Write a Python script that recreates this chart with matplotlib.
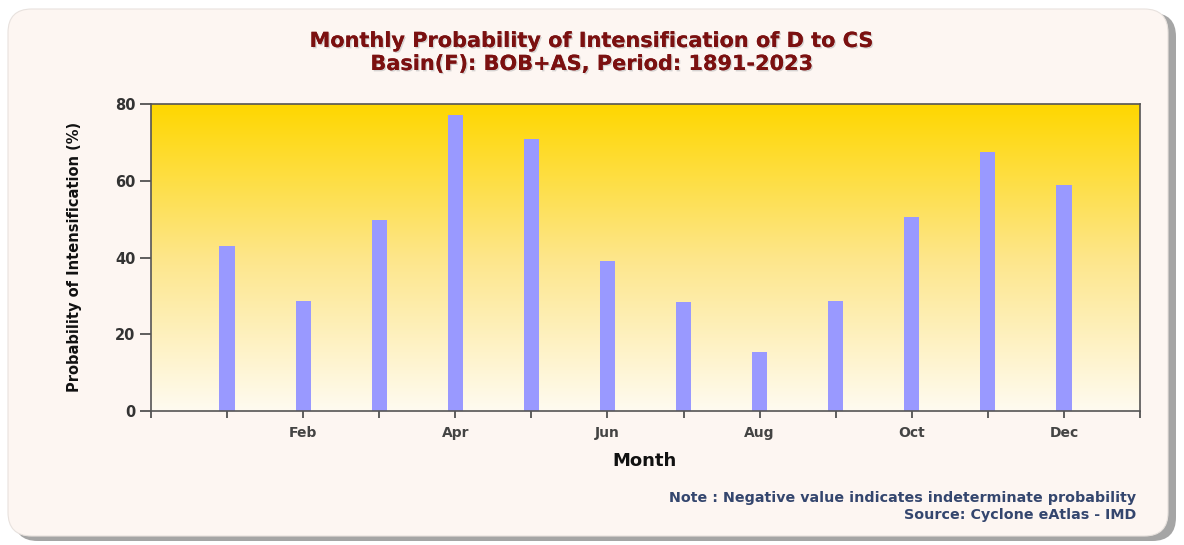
import numpy as np
import matplotlib
matplotlib.use("Agg")
import matplotlib.pyplot as plt
from matplotlib.patches import FancyBboxPatch
import matplotlib.patheffects as pe
from matplotlib.colors import LinearSegmentedColormap

months = ["Jan", "Feb", "Mar", "Apr", "May", "Jun", "Jul", "Aug", "Sep", "Oct", "Nov", "Dec"]
probability = [43.0, 28.6, 49.8, 77.1, 70.8, 39.2, 28.4, 15.4, 28.6, 50.5, 67.4, 58.9]
yticks = [0, 20, 40, 60, 80]
title_lines = ["Monthly Probability of Intensification of D to CS",
               "Basin(F): BOB+AS, Period: 1891-2023"]

W, H = 1184, 545
fig = plt.figure(figsize=(W / 100, H / 100), dpi=100)
fig.patch.set_facecolor("white")

# card with shadow
shadow = FancyBboxPatch((14 / W, 4 / H), (1162 / W), (528 / H),
                        boxstyle="round,pad=0,rounding_size=0.02",
                        transform=fig.transFigure, facecolor="#a5a5a5",
                        edgecolor="none", zorder=-2, mutation_aspect=W / H)
card = FancyBboxPatch((8 / W, 9 / H), (1160 / W), (527 / H),
                      boxstyle="round,pad=0,rounding_size=0.02",
                      transform=fig.transFigure, facecolor="#fdf6f2",
                      edgecolor="#e8e2de", linewidth=0.8, zorder=-1,
                      mutation_aspect=W / H)
fig.patches.extend([shadow, card])

fam = ["DejaVu Sans"]
shadow_fx = [pe.withSimplePatchShadow(offset=(1, -1), shadow_rgbFace="#bbbbbb", alpha=0.6), pe.Normal()]
fig.text(592 / W, 1 - 41 / H, title_lines[0], ha="center", va="center",
         fontsize=15, fontweight="bold", color="#7b1010", family=fam,
         path_effects=shadow_fx)
fig.text(592 / W, 1 - 64 / H, title_lines[1], ha="center", va="center",
         fontsize=15, fontweight="bold", color="#7b1010", family=fam,
         path_effects=shadow_fx)

ax = fig.add_axes([151 / W, 1 - 411 / H, (1140 - 151) / W, (411 - 104) / H])
ax.set_xlim(0, 13)
ax.set_ylim(0, 80)

cmap = LinearSegmentedColormap.from_list("g", ["#fffbf0", "#fde68a", "#ffd700"])
grad = np.linspace(0, 1, 256).reshape(-1, 1)
ax.imshow(grad, aspect="auto", cmap=cmap, origin="lower",
          extent=[0, 13, 0, 80], zorder=0)

x = np.arange(1, 13)
ax.bar(x, probability, width=0.2, color="#9999ff", zorder=2)

ax.set_xticks(np.arange(0, 14))
ax.set_xticklabels(["" if (i == 0 or i == 13 or i % 2 == 1) else months[i - 1] for i in range(14)])
ax.set_yticks(yticks)
ax.tick_params(axis="x", length=5, width=1.2, color="#444444", labelsize=10,
               labelcolor="#444444", pad=6)
ax.tick_params(axis="y", length=8, width=1.2, color="#444444", labelsize=10.5,
               labelcolor="#333333", pad=3)
for lab in ax.get_yticklabels() + ax.get_xticklabels():
    lab.set_fontweight("bold")
for s in ax.spines.values():
    s.set_color("#555555")
    s.set_linewidth(1.2)

fig.text(75 / W, 1 - 257 / H, "Probability of Intensification (%)", rotation=90,
         ha="center", va="center", fontsize=10.5, fontweight="bold",
         color="#111111", family=fam)
fig.text(644 / W, 1 - 461 / H, "Month", ha="center", va="center",
         fontsize=13, fontweight="bold", color="#111111", family=fam)

fig.text(1136 / W, 1 - 498 / H, "Note : Negative value indicates indeterminate probability",
         ha="right", va="center", fontsize=10.3, fontweight="bold", color="#34466e", family=fam)
fig.text(1136 / W, 1 - 515 / H, "Source: Cyclone eAtlas - IMD",
         ha="right", va="center", fontsize=10.3, fontweight="bold", color="#34466e", family=fam)

fig.savefig("out.png", dpi=100, facecolor=fig.get_facecolor())
